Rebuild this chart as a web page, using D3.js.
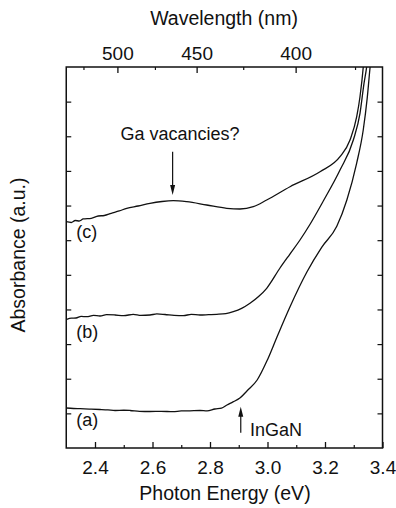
<!DOCTYPE html>
<html>
<head>
<meta charset="utf-8">
<script src="https://cdn.jsdelivr.net/npm/d3@7"></script>
<style>
  html, body { margin: 0; padding: 0; background: #fff; }
  svg { display: block; }
  text { font-family: "Liberation Sans", Arial, Helvetica, sans-serif; fill: #111; }
</style>
</head>
<body>
<svg id="chart" width="396" height="508"></svg>
<script>
// ---- data (photon energy in eV, absorbance in arbitrary units) ----
const energyA = [2.30, 2.325, 2.348, 2.38, 2.417, 2.445, 2.470, 2.50, 2.522, 2.555, 2.591, 2.63, 2.671, 2.70, 2.730, 2.765, 2.79, 2.817, 2.840, 2.859, 2.880, 2.904, 2.930, 2.964, 3.000, 3.033, 3.078, 3.137, 3.189, 3.241, 3.276, 3.310, 3.333, 3.347, 3.357, 3.362];
const absA    = [1.155, 1.14, 1.135, 1.125, 1.112, 1.10, 1.083, 1.09, 1.083, 1.06, 1.054, 1.06, 1.048, 1.07, 1.074, 1.083, 1.07, 1.126, 1.15, 1.241, 1.33, 1.444, 1.66, 1.963, 2.55, 3.205, 4.071, 5.08, 5.80, 6.40, 7.160, 8.220, 9.181, 10.116, 11.009, 11.4];

const energyB = [2.3016, 2.318, 2.3339, 2.352, 2.3711, 2.395, 2.4174, 2.44, 2.4696, 2.50, 2.5332, 2.56, 2.5913, 2.615, 2.6435, 2.675, 2.7071, 2.735, 2.7652, 2.795, 2.8233, 2.855, 2.8811, 2.910, 2.9391, 2.970, 2.9972, 3.0435, 3.078, 3.1130, 3.148, 3.1941, 3.2522, 3.2985, 3.3217, 3.3357, 3.3450, 3.349];
const absB    = [3.716, 3.75, 3.753, 3.80, 3.791, 3.83, 3.811, 3.85, 3.840, 3.82, 3.860, 3.83, 3.840, 3.87, 3.854, 3.83, 3.820, 3.86, 3.840, 3.85, 3.860, 3.88, 3.935, 4.03, 4.178, 4.38, 4.611, 5.197, 5.60, 6.005, 6.46, 7.130, 8.026, 8.892, 9.663, 10.529, 11.009, 11.3];

const energyC = [2.30, 2.3174, 2.3313, 2.3452, 2.3591, 2.3870, 2.4113, 2.4322, 2.4565, 2.4843, 2.5103, 2.5500, 2.5913, 2.6330, 2.6724, 2.7190, 2.7885, 2.8581, 2.9043, 2.9506, 2.9972, 3.0783, 3.1826, 3.2522, 3.2870, 3.3103, 3.3217, 3.3332, 3.336];
const absC    = [6.534, 6.511, 6.568, 6.554, 6.612, 6.632, 6.698, 6.713, 6.776, 6.843, 6.921, 6.987, 7.065, 7.117, 7.140, 7.111, 7.016, 6.921, 6.900, 6.967, 7.160, 7.544, 7.977, 8.410, 8.892, 9.565, 10.142, 11.009, 11.3];

const curveNames = ["(a)", "(b)", "(c)"];

// axis ticks
const energyMajor = [2.4, 2.6, 2.8, 3.0, 3.2, 3.4];
const energyMinor = [2.5, 2.7, 2.9, 3.1, 3.3];
const wavelengthMajor = [500, 450, 400];
const wavelengthMinor = [525, 475, 425, 375];
const absTicks = [1, 2, 3, 4, 5, 6, 7, 8, 9, 10];

// annotations (data coordinates)
const labelEnergy = 2.335;
const labelAbs = [0.635, 3.176, 6.063];
const gaArrow = { e: 2.67, from: 8.555, to: 7.305, textE: 2.6956, textAbs: 8.892, text: "Ga vacancies?" };
const inganArrow = { e: 2.907, from: 0.442, to: 1.192, textE: 2.9391, textAbs: 0.346, text: "InGaN" };

// ---- drawing ----
const svg = d3.select("#chart");
const x = d3.scaleLinear().domain([2.3, 3.4]).range([66.25, 382.5]);
const y = d3.scaleLinear().domain([0, 11]).range([448, 67]);
const HC = 1239.84;

const ink = "#111";
const tickFont = "19px";
const titleFont = "19.5px";
const annoFont = "18px";

svg.append("defs").append("clipPath").attr("id", "clip")
  .append("rect").attr("x", x(2.3)).attr("y", y(11)).attr("width", x(3.4) - x(2.3)).attr("height", y(0) - y(11));

// frame
svg.append("rect")
  .attr("x", x(2.3)).attr("y", y(11))
  .attr("width", x(3.4) - x(2.3)).attr("height", y(0) - y(11))
  .attr("fill", "none").attr("stroke", ink).attr("stroke-width", 1.5);

// bottom axis
const bottom = svg.append("g").attr("transform", `translate(0,${y(0)})`)
  .call(d3.axisBottom(x).tickValues(energyMajor).tickFormat(d3.format(".1f")).tickSizeInner(-6).tickSizeOuter(0).tickPadding(13));
bottom.select(".domain").remove();
bottom.selectAll("line").attr("stroke", ink).attr("stroke-width", 1.3);
bottom.selectAll("text").style("font-size", tickFont).attr("fill", ink);
svg.append("g").attr("transform", `translate(0,${y(0)})`)
  .call(d3.axisBottom(x).tickValues(energyMinor).tickFormat("").tickSizeInner(-3).tickSizeOuter(0))
  .call(g => g.select(".domain").remove())
  .selectAll("line").attr("stroke", ink).attr("stroke-width", 1.2);

// top axis (wavelength)
const xw = d => x(HC / d);
const topAxis = svg.append("g").attr("transform", `translate(0,${y(11)})`);
topAxis.selectAll("line.maj").data(wavelengthMajor).join("line")
  .attr("class", "maj")
  .attr("x1", xw).attr("x2", xw).attr("y1", 0).attr("y2", 6)
  .attr("stroke", ink).attr("stroke-width", 1.3);
topAxis.selectAll("line.min").data(wavelengthMinor).join("line")
  .attr("class", "min")
  .attr("x1", xw).attr("x2", xw).attr("y1", 0).attr("y2", 3)
  .attr("stroke", ink).attr("stroke-width", 1.2);
topAxis.selectAll("text").data(wavelengthMajor).join("text")
  .attr("x", xw).attr("y", -7).attr("text-anchor", "middle")
  .style("font-size", tickFont).text(d => d);

// left and right ticks
const left = svg.append("g").attr("transform", `translate(${x(2.3)},0)`)
  .call(d3.axisLeft(y).tickValues(absTicks).tickFormat("").tickSizeInner(-5).tickSizeOuter(0));
left.select(".domain").remove();
left.selectAll("line").attr("stroke", ink).attr("stroke-width", 1.2);
const right = svg.append("g").attr("transform", `translate(${x(3.4)},0)`)
  .call(d3.axisRight(y).tickValues(absTicks).tickFormat("").tickSizeInner(-5).tickSizeOuter(0));
right.select(".domain").remove();
right.selectAll("line").attr("stroke", ink).attr("stroke-width", 1.2);

// axis titles
svg.append("text").attr("x", 224).attr("y", 25).attr("text-anchor", "middle")
  .style("font-size", titleFont).text("Wavelength (nm)");
svg.append("text").attr("x", 225).attr("y", 500).attr("text-anchor", "middle")
  .style("font-size", titleFont).text("Photon Energy (eV)");
svg.append("text").attr("transform", "translate(25,255) rotate(-90)").attr("text-anchor", "middle")
  .style("font-size", titleFont).text("Absorbance (a.u.)");

// curves
const series = [
  d3.zip(energyA, absA),
  d3.zip(energyB, absB),
  d3.zip(energyC, absC)
];
const line = d3.line().x(d => x(d[0])).y(d => y(d[1])).curve(d3.curveMonotoneX);
svg.append("g").attr("clip-path", "url(#clip)")
  .selectAll("path").data(series).join("path")
  .attr("d", line).attr("fill", "none").attr("stroke", ink).attr("stroke-width", 1.3)
  .attr("stroke-linejoin", "round");

// curve labels
svg.selectAll("text.lbl").data(curveNames).join("text")
  .attr("class", "lbl").attr("x", x(labelEnergy)).attr("y", (d, i) => y(labelAbs[i]))
  .style("font-size", annoFont).text(d => d);

// arrows
function arrow(a) {
  const x0 = x(a.e), y0 = y(a.from), y1 = y(a.to);
  const dir = y1 > y0 ? 1 : -1;
  svg.append("line").attr("x1", x0).attr("x2", x0).attr("y1", y0).attr("y2", y1 - dir * 8)
    .attr("stroke", ink).attr("stroke-width", 1.2);
  svg.append("path")
    .attr("d", `M${x0},${y1} L${x0 - 2.5},${y1 - dir * 10} L${x0 + 2.5},${y1 - dir * 10} Z`)
    .attr("fill", ink);
}
arrow(gaArrow);
arrow(inganArrow);
svg.append("text").attr("x", x(gaArrow.textE)).attr("y", y(gaArrow.textAbs)).attr("text-anchor", "middle")
  .style("font-size", annoFont).text(gaArrow.text);
svg.append("text").attr("x", x(inganArrow.textE)).attr("y", y(inganArrow.textAbs))
  .style("font-size", annoFont).text(inganArrow.text);
</script>
</body>
</html>
